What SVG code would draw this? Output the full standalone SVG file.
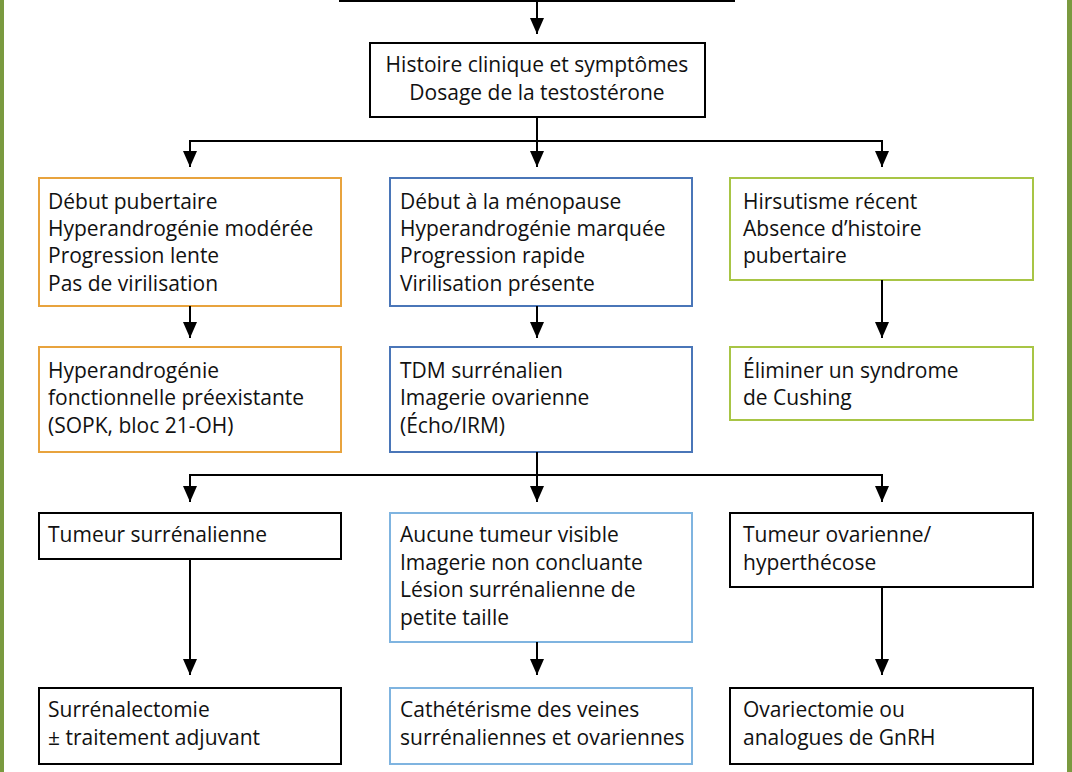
<svg xmlns="http://www.w3.org/2000/svg" width="1072" height="772" viewBox="0 0 1072 772">
<defs>
<marker id="ah" markerUnits="userSpaceOnUse" markerWidth="16" markerHeight="14" refX="16" refY="7" orient="auto">
<path d="M0,0 L16,7 L0,14 Z" fill="#000"/>
</marker>
<style>
.box{fill:#fff;stroke-width:2}
.k{stroke:#000}
.o{stroke:#e8a33d}
.b{stroke:#4a76b8}
.g{stroke:#a8c545}
.lb{stroke:#7fb4e0}
text{font-family:"Open Sans","Noto Sans","Liberation Sans",sans-serif;font-size:21px;fill:#111;font-variant-ligatures:none}
.c{text-anchor:middle}
.con{fill:none;stroke:#000;stroke-width:2}
</style>
</defs>
<rect x="0" y="0" width="1072" height="772" fill="#fff"/>
<rect x="0" y="-10" width="4" height="792" fill="#7a9a3f"/>
<rect x="1067" y="-10" width="5" height="792" fill="#7a9a3f"/>

<g id="top"><rect class="box k" x="340" y="-50" width="394" height="51"/></g>

<g id="n-histoire"><rect class="box k" x="370" y="43" width="335" height="74"/>
<text class="c" x="537" y="72">Histoire clinique et symptômes</text>
<text class="c" x="537" y="100">Dosage de la testostérone</text></g>

<g id="n-pubertaire"><rect class="box o" x="39" y="178" width="302" height="128"/>
<text x="48" y="209">Début pubertaire</text>
<text x="48" y="236">Hyperandrogénie modérée</text>
<text x="48" y="263">Progression lente</text>
<text x="48" y="291">Pas de virilisation</text></g>

<g id="n-menopause"><rect class="box b" x="390" y="178" width="302" height="128"/>
<text x="400" y="209">Début à la ménopause</text>
<text x="400" y="236">Hyperandrogénie marquée</text>
<text x="400" y="263">Progression rapide</text>
<text x="400" y="291">Virilisation présente</text></g>

<g id="n-hirsutisme"><rect class="box g" x="730" y="178" width="303" height="102"/>
<text x="743" y="209">Hirsutisme récent</text>
<text x="743" y="236">Absence d’histoire</text>
<text x="743" y="263">pubertaire</text></g>

<g id="n-fonctionnelle"><rect class="box o" x="39" y="347" width="302" height="105"/>
<text x="48" y="378">Hyperandrogénie</text>
<text x="48" y="405">fonctionnelle préexistante</text>
<text x="48" y="433">(SOPK, bloc 21-OH)</text></g>

<g id="n-tdm"><rect class="box b" x="390" y="347" width="302" height="105"/>
<text x="400" y="378">TDM surrénalien</text>
<text x="400" y="405">Imagerie ovarienne</text>
<text x="400" y="433">(Écho/IRM)</text></g>

<g id="n-cushing"><rect class="box g" x="730" y="347" width="303" height="73"/>
<text x="743" y="378">Éliminer un syndrome</text>
<text x="743" y="405">de Cushing</text></g>

<g id="n-tumsurr"><rect class="box k" x="39" y="513" width="302" height="46"/>
<text x="48" y="542">Tumeur surrénalienne</text></g>

<g id="n-aucune"><rect class="box lb" x="390" y="513" width="302" height="129"/>
<text x="400" y="542">Aucune tumeur visible</text>
<text x="400" y="570">Imagerie non concluante</text>
<text x="400" y="597">Lésion surrénalienne de</text>
<text x="400" y="625">petite taille</text></g>

<g id="n-tumova"><rect class="box k" x="730" y="513" width="303" height="74"/>
<text x="743" y="542">Tumeur ovarienne/</text>
<text x="743" y="570">hyperthécose</text></g>

<g id="n-surrenalectomie"><rect class="box k" x="39" y="688" width="302" height="76"/>
<text x="48" y="717">Surrénalectomie</text>
<text x="48" y="745">± traitement adjuvant</text></g>

<g id="n-catheterisme"><rect class="box lb" x="390" y="688" width="302" height="76"/>
<text x="400" y="717">Cathétérisme des veines</text>
<text x="400" y="745">surrénaliennes et ovariennes</text></g>

<g id="n-ovariectomie"><rect class="box k" x="730" y="688" width="303" height="76"/>
<text x="743" y="717">Ovariectomie ou</text>
<text x="743" y="745">analogues de GnRH</text></g>

<g id="connectors">
<path class="con" d="M537,1 V34" marker-end="url(#ah)"/>
<path class="con" d="M537,117 V141 M190,141 H882"/>
<path class="con" d="M190,140 V167" marker-end="url(#ah)"/>
<path class="con" d="M537,140 V167" marker-end="url(#ah)"/>
<path class="con" d="M882,140 V167" marker-end="url(#ah)"/>
<path class="con" d="M190,306 V338" marker-end="url(#ah)"/>
<path class="con" d="M537,306 V338" marker-end="url(#ah)"/>
<path class="con" d="M882,280 V338" marker-end="url(#ah)"/>
<path class="con" d="M537,452 V475 M190,475 H882"/>
<path class="con" d="M190,474 V502" marker-end="url(#ah)"/>
<path class="con" d="M537,474 V502" marker-end="url(#ah)"/>
<path class="con" d="M882,474 V502" marker-end="url(#ah)"/>
<path class="con" d="M190,559 V675" marker-end="url(#ah)"/>
<path class="con" d="M537,642 V675" marker-end="url(#ah)"/>
<path class="con" d="M882,587 V675" marker-end="url(#ah)"/>
</g>
</svg>
